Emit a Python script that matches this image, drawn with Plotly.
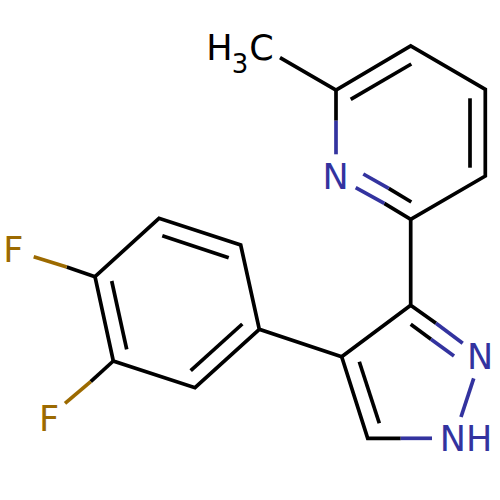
import plotly.graph_objects as go

# bond paths in picture pixels, None breaks the line
black_x = [280, 336, 410.7, 485.3, 485.3, 410.7, 384.3, None,
           336, 336, None,
           410.7, 410.7, 436, None,
           410.7, 341.7, 367.7, 400.7, None,
           341.7, 259.3, 240.7, 159, 95, 113.3, 195, 259.3, None,
           95, 66.7, None,
           113.3, 90.7, None,
           350.7, 411.3, None,
           470, 470, None,
           411.3, 388.7, None,
           410.7, 431, None,
           359.3, 379.3, None,
           162.3, 228.7, None,
           111.7, 126.7, None,
           242.3, 190.7]
black_y = [57.7, 90, 46, 89.3, 176, 219.3, 203.3, None,
           90, 120.7, None,
           219.3, 305.3, 323.3, None,
           305.3, 356.7, 438.3, 438.3, None,
           356.7, 329.3, 245, 218.3, 276.7, 361, 387.7, 329.3, None,
           276.7, 267, None,
           361, 381.7, None,
           99.3, 64, None,
           98.3, 167.7, None,
           202, 188.3, None,
           324.3, 339.3, None,
           361.7, 423.3, None,
           235.7, 257.7, None,
           281, 349.3, None,
           324, 370.7]

nitrogen_x = [336, 336, None, 355.7, 384.3, None, 363.3, 388.7, None,
              436, 462.7, None, 431, 454, None, 473.7, 461, None, 400.7, 432]
nitrogen_y = [120.7, 154.3, None, 187.7, 203.3, None, 174, 188.3, None,
              323.3, 343.3, None, 339.3, 356, None, 378.3, 417, None, 438.3, 438.3]

fluorine_x = [66.7, 33.7, None, 90.7, 65]
fluorine_y = [267, 256.7, None, 381.7, 403.3]

# atom labels
label_text = ["N", "N", "NH", "F", "F", "H", "3", "C"]
label_x = [335.7, 480, 466, 13.3, 49, 219.5, 240, 261.5]
label_y = [180, 360, 442, 253, 422, 51, 66, 51]
label_size = [35, 35, 35, 35, 35, 35, 26, 35]
label_color = ["#33339f", "#33339f", "#33339f", "#9c6a00", "#9c6a00", "#000000", "#000000", "#000000"]

fig = go.Figure()
fig.add_trace(go.Scatter(x=black_x, y=black_y, mode="lines", line=dict(color="#000000", width=3.7)))
fig.add_trace(go.Scatter(x=nitrogen_x, y=nitrogen_y, mode="lines", line=dict(color="#33339f", width=3.7)))
fig.add_trace(go.Scatter(x=fluorine_x, y=fluorine_y, mode="lines", line=dict(color="#9c6a00", width=3.7)))
fig.add_trace(go.Scatter(x=label_x, y=label_y, mode="text", text=label_text,
                         textposition="middle center",
                         textfont=dict(family="DejaVu Sans", size=label_size, color=label_color)))

fig.update_layout(width=500, height=500, showlegend=False,
                  margin=dict(l=0, r=0, t=0, b=0),
                  paper_bgcolor="white", plot_bgcolor="white")
fig.update_xaxes(range=[0, 500], visible=False)
fig.update_yaxes(range=[500, 0], visible=False)

# the page body has a default margin that would push the figure off 0,0
fig.write_html("out.html", config={"displayModeBar": False},
               post_script="document.body.style.margin = '0';")
